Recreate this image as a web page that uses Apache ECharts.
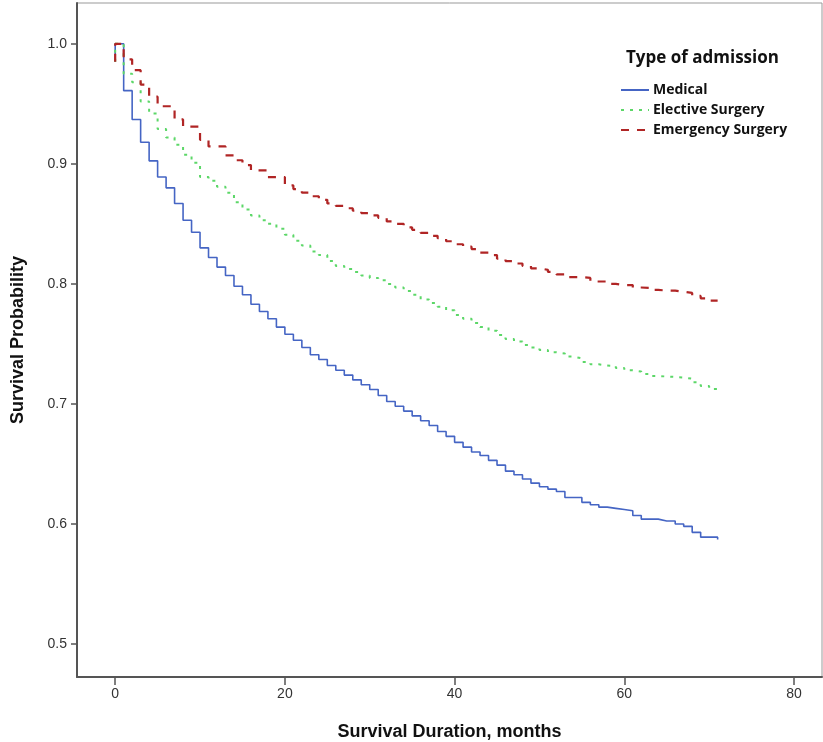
<!DOCTYPE html>
<html>
<head>
<meta charset="utf-8">
<script src="https://cdn.jsdelivr.net/npm/echarts@6/dist/echarts.min.js"></script>
<style>
  html, body { margin: 0; padding: 0; background: #fff; }
  #chart-container { width: 823px; height: 742px; }
</style>
</head>
<body>
<div id="chart-container"></div>
<script>
// months 0..71
var months = [];
for (var m = 0; m <= 71; m++) months.push(m);

var groupNames = ['Medical', 'Elective Surgery', 'Emergency Surgery'];

// level just below 1.0 where each curve begins at time 0
var startLevels = [0.985, 0.985, 0.985];

var medical = [
  1.0, 0.961, 0.937, 0.918, 0.9025, 0.889, 0.880, 0.867, 0.853, 0.843,
  0.830, 0.822, 0.814, 0.807, 0.798, 0.791, 0.783, 0.777, 0.771, 0.764,
  0.758, 0.753, 0.747, 0.741, 0.737, 0.732, 0.728, 0.724, 0.720, 0.716,
  0.712, 0.707, 0.702, 0.698, 0.694, 0.690, 0.686, 0.682, 0.677, 0.673,
  0.668, 0.664, 0.660, 0.657, 0.653, 0.649, 0.644, 0.641, 0.6375, 0.634,
  0.631, 0.629, 0.627, 0.622, 0.622, 0.618, 0.616, 0.614, 0.613, 0.612,
  0.611, 0.607, 0.604, 0.604, 0.6025, 0.6025, 0.600, 0.598, 0.593, 0.589,
  0.589, 0.587
];

var elective = [
  1.0, 0.975, 0.968, 0.952, 0.942, 0.929, 0.922, 0.916, 0.9075, 0.901,
  0.889, 0.886, 0.881, 0.876, 0.868, 0.862, 0.857, 0.853, 0.850, 0.846,
  0.841, 0.836, 0.832, 0.827, 0.824, 0.819, 0.815, 0.8125, 0.810, 0.807,
  0.805, 0.803, 0.800, 0.797, 0.794, 0.791, 0.787, 0.784, 0.781, 0.778,
  0.774, 0.771, 0.7675, 0.764, 0.761, 0.7575, 0.754, 0.752, 0.749, 0.747,
  0.745, 0.743, 0.742, 0.7394, 0.738, 0.735, 0.733, 0.732, 0.7317, 0.730,
  0.728, 0.727, 0.725, 0.7233, 0.7228, 0.7225, 0.722, 0.721, 0.718, 0.715,
  0.7125, 0.711
];

var emergency = [
  1.0, 0.987, 0.978, 0.966, 0.956, 0.948, 0.948, 0.937, 0.931, 0.931,
  0.920, 0.9145, 0.9145, 0.907, 0.903, 0.899, 0.8945, 0.8945, 0.889, 0.889,
  0.882, 0.879, 0.876, 0.873, 0.870, 0.867, 0.865, 0.863, 0.861, 0.859,
  0.857, 0.855, 0.852, 0.850, 0.847, 0.845, 0.8425, 0.840, 0.838, 0.8355,
  0.833, 0.831, 0.829, 0.826, 0.824, 0.821, 0.819, 0.817, 0.815, 0.813,
  0.8117, 0.810, 0.808, 0.8056, 0.8056, 0.805, 0.802, 0.802, 0.800, 0.799,
  0.799, 0.797, 0.7967, 0.795, 0.7944, 0.7944, 0.7935, 0.7925, 0.790, 0.788,
  0.786, 0.786
];

var xTicks = [0, 20, 40, 60, 80];
var yTicks = [0.5, 0.6, 0.7, 0.8, 0.9, 1.0];

function toPairs(values, start) {
  var out = [[0, start]];
  for (var i = 0; i < values.length; i++) out.push([months[i], values[i]]);
  return out;
}

var dom = document.getElementById('chart-container');
var myChart = echarts.init(dom, null, { renderer: 'canvas' });

var labelFont = 'Liberation Sans, Arial, sans-serif';
var axisColor = '#555';

var option = {
  animation: false,
  title: {
    text: 'Type of admission',
    left: 621,
    top: 45,
    textStyle: {
      fontFamily: 'Open Sans, Noto Sans, sans-serif',
      fontWeight: 'bold',
      fontSize: 17,
      color: '#111'
    }
  },
  legend: {
    orient: 'vertical',
    left: 615,
    top: 78,
    itemWidth: 28,
    itemHeight: 14,
    itemGap: 6,
    data: groupNames,
    itemStyle: { opacity: 0 },
    textStyle: {
      fontFamily: 'Open Sans, Noto Sans, sans-serif',
      fontWeight: 'bold',
      fontSize: 14,
      color: '#111',
      padding: [0, 0, 0, -1]
    }
  },
  grid: {
    left: 77,
    right: 1,
    top: 3,
    bottom: 65,
    outerBoundsMode: 'none',
    containLabel: false,
    show: true,
    borderColor: '#999',
    borderWidth: 1
  },
  xAxis: {
    type: 'value',
    min: -4.5,
    max: 83.3,
    name: 'Survival Duration, months',
    nameLocation: 'middle',
    nameGap: 46,
    nameTextStyle: {
      fontFamily: labelFont,
      fontWeight: 'bold',
      fontSize: 18,
      color: '#111'
    },
    axisLine: { show: true, onZero: false, lineStyle: { color: axisColor, width: 2 } },
    axisTick: { show: true, customValues: xTicks, length: 8, lineStyle: { color: axisColor, width: 1.5 } },
    axisLabel: {
      customValues: xTicks,
      fontFamily: labelFont,
      fontSize: 14,
      color: '#333',
      margin: 10
    },
    splitLine: { show: false }
  },
  yAxis: {
    type: 'value',
    min: 0.4725,
    max: 1.034,
    name: 'Survival Probability',
    nameLocation: 'middle',
    nameGap: 50,
    nameRotate: 90,
    nameTextStyle: {
      fontFamily: labelFont,
      fontWeight: 'bold',
      fontSize: 18,
      color: '#111'
    },
    axisLine: { show: true, onZero: false, lineStyle: { color: axisColor, width: 2 } },
    axisTick: { show: true, customValues: yTicks, length: 6, lineStyle: { color: axisColor, width: 1.5 } },
    axisLabel: {
      customValues: yTicks,
      fontFamily: labelFont,
      fontSize: 14,
      color: '#333',
      margin: 10,
      formatter: function (v) { return v.toFixed(1); }
    },
    splitLine: { show: false }
  },
  series: [
    {
      name: groupNames[0],
      type: 'line',
      step: 'end',
      symbol: 'none',
      data: toPairs(medical, startLevels[0]),
      lineStyle: { color: '#4565c4', width: 1.6 },
      itemStyle: { color: '#4565c4' }
    },
    {
      name: groupNames[1],
      type: 'line',
      step: 'end',
      symbol: 'none',
      data: toPairs(elective, startLevels[1]),
      lineStyle: { color: '#5cd768', width: 2, type: [3, 6] },
      itemStyle: { color: '#5cd768' }
    },
    {
      name: groupNames[2],
      type: 'line',
      step: 'end',
      symbol: 'none',
      data: toPairs(emergency, startLevels[2]),
      lineStyle: { color: '#b02525', width: 2.2, type: [8, 8] },
      itemStyle: { color: '#b02525' }
    }
  ]
};

if (option && typeof option === 'object') {
  myChart.setOption(option);
}

window.addEventListener('resize', myChart.resize);
</script>
</body>
</html>
